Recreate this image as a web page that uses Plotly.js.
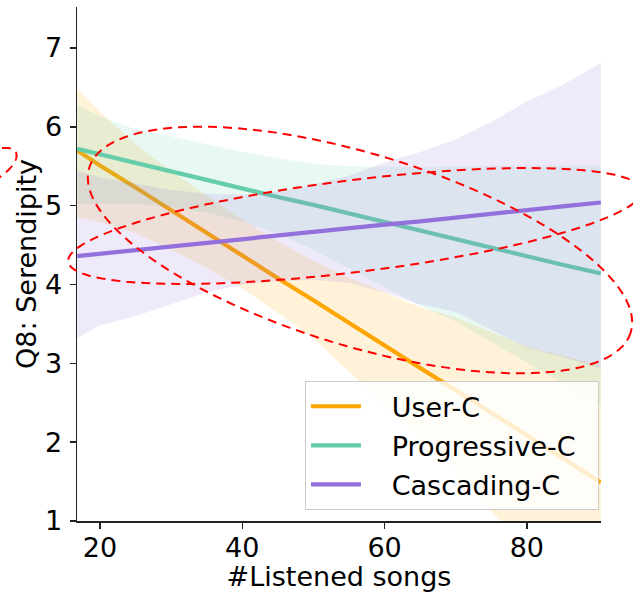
<!DOCTYPE html>
<html>
<head>
<meta charset="utf-8">
<script src="https://cdn.plot.ly/plotly-3.0.1.min.js"></script>
<style>html,body{margin:0;padding:0;background:#fff;}#chart{width:633px;height:592px;}</style>
</head>
<body>
<div id="chart"></div>
<script>
// ---- data ----
const X = [16.8, 20, 25, 30, 35, 40, 45, 50, 55, 60, 65, 70, 75, 80, 85, 90.4];

const USER_MEAN = [5.70, 5.51, 5.23, 4.94, 4.66, 4.37, 4.08, 3.80, 3.51, 3.23, 2.94, 2.66, 2.37, 2.08, 1.80, 1.49];
const USER_UP   = [6.48, 6.19, 5.78, 5.44, 5.13, 4.82, 4.55, 4.30, 4.09, 3.90, 3.71, 3.58, 3.40, 3.21, 3.10, 2.98];
const USER_LO   = [4.85, 4.79, 4.65, 4.44, 4.21, 3.95, 3.64, 3.32, 2.89, 2.48, 2.06, 1.64, 1.12, 0.66, 0.22, -0.26];

const PROG_MEAN = [5.72, 5.65, 5.54, 5.43, 5.33, 5.22, 5.11, 5.01, 4.90, 4.79, 4.68, 4.58, 4.47, 4.36, 4.25, 4.14];
const PROG_UP   = [6.28, 6.13, 5.97, 5.88, 5.78, 5.68, 5.60, 5.53, 5.50, 5.49, 5.49, 5.50, 5.50, 5.51, 5.51, 5.51];
const PROG_LO   = [5.02, 5.03, 5.02, 4.98, 4.91, 4.80, 4.64, 4.44, 4.20, 3.97, 3.73, 3.53, 3.27, 3.01, 2.75, 2.47];

const CASC_MEAN = [4.36, 4.39, 4.44, 4.48, 4.53, 4.57, 4.62, 4.67, 4.71, 4.76, 4.80, 4.85, 4.90, 4.94, 4.99, 5.04];
const CASC_UP   = [5.44, 5.36, 5.28, 5.20, 5.15, 5.14, 5.18, 5.27, 5.38, 5.55, 5.68, 5.84, 6.06, 6.32, 6.53, 6.81];
const CASC_LO   = [3.32, 3.48, 3.60, 3.75, 3.90, 4.00, 4.04, 4.06, 4.02, 3.90, 3.75, 3.65, 3.42, 3.20, 3.08, 2.93];

const SERIES_NAMES = ['User-C', 'Progressive-C', 'Cascading-C'];
const X_TICKS = [20, 40, 60, 80];
const Y_TICKS = [1, 2, 3, 4, 5, 6, 7];

// ---- styling ----
const FONT = 'DejaVu Sans, Verdana, sans-serif';
const FS = 27;
const COLORS = ['#FFA500', '#66CDAA', '#9370DB'];
const FILLS = ['rgba(255,165,0,0.15)', 'rgba(102,205,170,0.15)', 'rgba(147,112,219,0.15)'];
const W = 633, H = 592;
const M = {l: 77, r: 32, t: 7, b: 71};
const PAD = '\u00A0\u00A0\u00A0';
const TAIL = '\u00A0\u00A0';

const groups = [
  [USER_MEAN, USER_UP, USER_LO],
  [PROG_MEAN, PROG_UP, PROG_LO],
  [CASC_MEAN, CASC_UP, CASC_LO]
];

const traces = [];
groups.forEach((g, i) => {
  const [mean, up, lo] = g;
  traces.push({x: X, y: lo, type: 'scatter', mode: 'lines', line: {width: 0, color: COLORS[i]},
               showlegend: false, hoverinfo: 'skip', legendgroup: 'g' + i});
  traces.push({x: X, y: up, type: 'scatter', mode: 'lines', line: {width: 0, color: COLORS[i]},
               fill: 'tonexty', fillcolor: FILLS[i], showlegend: false, hoverinfo: 'skip', legendgroup: 'g' + i});
  traces.push({x: X, y: mean, type: 'scatter', mode: 'lines', name: PAD + SERIES_NAMES[i] + TAIL,
               line: {width: 4.2, color: COLORS[i]}, legendgroup: 'g' + i});
});

// annotation ellipses (pixel geometry of the hand-drawn red dashed marks)
const ELLIPSES = [
  {cx: 360, cy: 250, a: 283, b: 96, deg: 16.9},
  {cx: 355, cy: 226, a: 289, b: 46, deg: -7.1},
  {cx: -12, cy: 168, a: 32, b: 14, deg: -30}
];
const pw = W - M.l - M.r, ph = H - M.t - M.b;
function ellipsePath(e) {
  const th = e.deg * Math.PI / 180, n = 120;
  let d = '';
  for (let i = 0; i <= n; i++) {
    const t = 2 * Math.PI * i / n;
    const px = e.cx + e.a * Math.cos(t) * Math.cos(th) - e.b * Math.sin(t) * Math.sin(th);
    const py = e.cy + e.a * Math.cos(t) * Math.sin(th) + e.b * Math.sin(t) * Math.cos(th);
    const xp = (px - M.l) / pw, yp = 1 - (py - M.t) / ph;
    d += (i ? 'L' : 'M') + xp.toFixed(5) + ',' + yp.toFixed(5);
  }
  return d + 'Z';
}
const shapes = ELLIPSES.map(e => ({
  type: 'path', xref: 'paper', yref: 'paper', path: ellipsePath(e),
  line: {color: '#FF0000', width: 2, dash: '9px,6px'}, layer: 'above'
}));

const layout = {
  width: W, height: H,
  margin: M,
  paper_bgcolor: '#fff', plot_bgcolor: '#fff',
  font: {family: FONT, size: FS, color: '#000'},
  showlegend: true,
  legend: {
    x: 0.435, y: 0.272, xanchor: 'left', yanchor: 'top',
    bgcolor: 'rgba(255,255,255,0.8)', bordercolor: '#cccccc', borderwidth: 1,
    font: {family: FONT, size: FS, color: '#000'},
    traceorder: 'grouped', tracegroupgap: 1, itemwidth: 50
  },
  xaxis: {
    range: [16.77, 90.42], tickvals: X_TICKS, ticktext: X_TICKS.map(String),
    showgrid: false, zeroline: false, showline: true, linecolor: '#222', linewidth: 1.5,
    ticks: 'outside', ticklen: 6, tickwidth: 1.5, tickcolor: '#222',
    ticklabelstandoff: -4,
    tickfont: {family: FONT, size: FS, color: '#000'},
    title: {text: '#Listened songs', font: {family: FONT, size: FS, color: '#000'}, standoff: 6}
  },
  yaxis: {
    range: [1, 7.52], tickvals: Y_TICKS, ticktext: Y_TICKS.map(String),
    showgrid: false, zeroline: false, showline: true, linecolor: '#222', linewidth: 1.5,
    ticks: 'outside', ticklen: 6, tickwidth: 1.5, tickcolor: '#222',
    ticklabelstandoff: 2,
    tickfont: {family: FONT, size: FS, color: '#000'},
    title: {text: 'Q8: Serendipity', font: {family: FONT, size: FS, color: '#000'}, standoff: 0}
  },
  shapes: shapes
};

Plotly.newPlot('chart', traces, layout, {staticPlot: true, displayModeBar: false});
</script>
</body>
</html>
